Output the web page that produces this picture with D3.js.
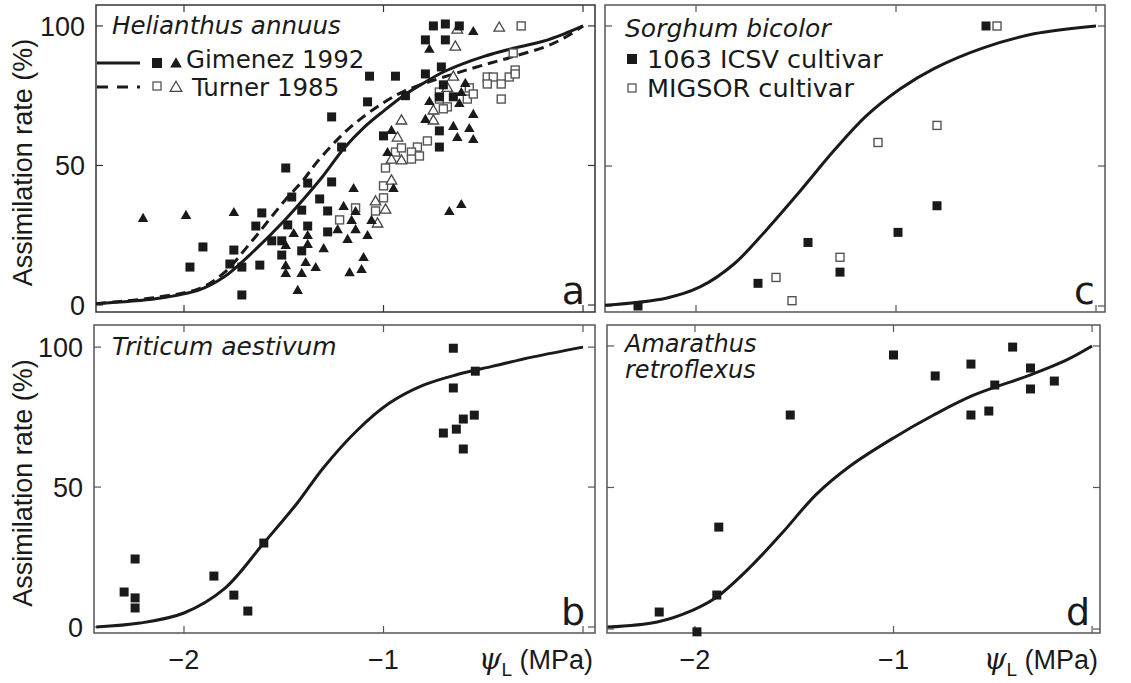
<!DOCTYPE html>
<html><head><meta charset="utf-8">
<script src="https://cdn.jsdelivr.net/npm/d3@7"></script>
<style>body{margin:0;background:#fff}svg{display:block}</style>
</head><body>
<svg id="c" width="1131" height="683"></svg>
<script>
// ---------- data ----------
const xTicks = [-2, -1, 0];
const xTickLabels = ["\u22122", "\u22121"];
const yTicks = [0, 50, 100];
const yTickLabels = ["0", "50", "100"];

// Panel a: Helianthus annuus
const curveGimenez = [[-2.44,0.5],[-2.135,2.3],[-1.92,5.5],[-1.8,10],[-1.67,18],[-1.5,30],[-1.4,38],[-1.3,46.5],[-1.2,56],[-1.1,63.5],[-1.0,69.5],[-0.9,75],[-0.8,79.5],[-0.7,83.5],[-0.6,86.5],[-0.5,89],[-0.35,92],[-0.2,94.5],[-0.1,97],[0,100]];
const curveTurner = [[-2.44,0.5],[-2.135,2.8],[-1.92,6],[-1.8,11.5],[-1.67,22],[-1.5,37],[-1.4,45],[-1.33,51.5],[-1.2,61.5],[-1.1,67.5],[-1.0,72.5],[-0.9,76.5],[-0.75,80.5],[-0.63,83.2],[-0.5,86],[-0.35,89],[-0.18,92.8],[-0.08,96.3],[0,100]];
const gimenezSquares = [[-1.26,67.4],[-1.21,56.6],[-1.49,49.1],[-1.38,43.7],[-1.26,44.1],[-1.46,38.7],[-1.32,38],[-1.41,34],[-1.28,33.7],[-1.61,33],[-1.64,28.3],[-1.48,28.7],[-1.38,28.3],[-1.56,23],[-1.51,23],[-1.28,26.2],[-1.41,19.4],[-1.905,20.8],[-1.75,19.7],[-1.51,17.9],[-1.77,14.7],[-1.71,13.6],[-1.62,14.3],[-1.97,13.6],[-1.71,3.6],[-0.75,100],[-0.69,100.7],[-0.62,100],[-0.79,95],[-0.69,95],[-1.07,82],[-0.94,82],[-0.79,82.8],[-0.71,85.3],[-1.08,72.8],[-0.89,75],[-0.70,78.9],[-0.72,74.6],[-0.65,74.6],[-1.0,60.6],[-0.72,62.4],[-0.72,56.6]];
const gimenezTriangles = [[-2.205,31.2],[-1.99,32.3],[-1.75,33.3],[-1.2,35.5],[-1.45,25.8],[-1.49,21.5],[-1.38,25.1],[-1.38,21.9],[-1.23,27.2],[-1.3,20.4],[-1.49,14.3],[-1.49,11.5],[-1.41,11.5],[-1.39,15.4],[-1.34,13.6],[-1.43,5.4],[-1.17,11.8],[-1.15,41.9],[-1.14,33.7],[-1.16,30.5],[-1.14,27.2],[-1.18,23.7],[-1.08,25.1],[-1.06,30.5],[-1.1,17.2],[-1.11,12.9],[-0.98,54.8],[-0.95,41.9],[-0.55,98.2],[-0.77,91.8],[-0.59,79.6],[-0.77,73.1],[-0.61,76.3],[-0.62,72.4],[-0.55,68.5],[-0.79,66.7],[-0.65,64.2],[-0.57,63.4],[-0.63,60.2],[-0.55,59.5],[-0.96,62.7],[-0.67,33.7],[-0.61,36.2]];
const turnerSquares = [[-1.14,34.8],[-1.22,30.5],[-0.99,49.1],[-1.0,42.7],[-1.0,38.4],[-1.04,33.7],[-0.94,54.8],[-0.31,100],[-0.35,90.3],[-0.48,81.7],[-0.45,81.7],[-0.48,79.2],[-0.41,79.2],[-0.37,81.7],[-0.34,84.2],[-0.34,82.8],[-0.41,73.8],[-0.72,76.3],[-0.72,73.8],[-0.68,71],[-0.7,70.3],[-0.57,77.8],[-0.58,73.8],[-0.55,75.6],[-0.78,58.8],[-0.83,56.6],[-0.86,54.8],[-0.82,53.4],[-0.86,52.3],[-0.91,56.3]];
const turnerTriangles = [[-0.96,52.3],[-0.91,52],[-0.96,44.8],[-1.04,37.3],[-0.99,34.4],[-1.03,29.4],[-0.42,99.6],[-0.63,98.9],[-0.64,92.8],[-0.65,82],[-0.91,66.3],[-0.93,60.2],[-0.75,69.9],[-0.75,66.3],[-0.68,78]];

// Panel b: Triticum aestivum
const curveTriticum = [[-2.44,0],[-2.22,1.4],[-2.0,5],[-1.8,13.5],[-1.6,30],[-1.43,44.5],[-1.3,57],[-1.13,70.4],[-0.97,80],[-0.8,86.4],[-0.63,90.2],[-0.45,93.2],[-0.25,96.5],[0,100]];
const triticumSquares = [[-2.3,12.5],[-2.245,24.3],[-2.245,10.4],[-2.245,6.8],[-1.85,18.2],[-1.75,11.4],[-1.68,5.7],[-1.6,30],[-0.7,69.3],[-0.65,99.6],[-0.65,85.4],[-0.635,70.7],[-0.6,74.3],[-0.6,63.6],[-0.545,75.7],[-0.54,91.4]];

// Panel c: Sorghum bicolor
const curveSorghum = [[-2.455,0.3],[-2.15,2.8],[-1.98,6.8],[-1.81,15],[-1.65,27],[-1.48,41],[-1.31,55.5],[-1.15,67.8],[-0.98,77.5],[-0.81,84.8],[-0.56,92.3],[-0.31,97.2],[0,100]];
const icsvSquares = [[-2.29,0],[-1.69,8.1],[-1.44,22.7],[-1.28,12.1],[-0.99,26.3],[-0.795,35.8],[-0.55,100]];
const migsorSquares = [[-1.6,10.2],[-1.52,1.9],[-1.28,17.4],[-1.09,58.4],[-0.795,64.5],[-0.495,100]];

// Panel d: Amarathus retroflexus
const curveAmaranthus = [[-2.44,0.7],[-2.19,2.5],[-2.01,6.7],[-1.89,11.3],[-1.72,22],[-1.56,34],[-1.39,47.5],[-1.22,57.5],[-1.0,67.5],[-0.8,75.5],[-0.6,82.5],[-0.31,89.8],[-0.13,95],[0,100]];
const amaranthusSquares = [[-2.18,6],[-1.99,-1],[-1.89,12],[-1.88,36],[-1.52,75.6],[-1.0,96.8],[-0.79,89.4],[-0.61,93.6],[-0.61,75.6],[-0.52,77],[-0.49,86.2],[-0.4,99.6],[-0.31,92.2],[-0.31,84.8],[-0.19,87.6]];

// ---------- drawing ----------
const svg = d3.select("#c");
const INK = "#1a1a1a";
const FRAME = "#555";
const SANS = "'DejaVu Sans', Verdana, sans-serif";
const ARIAL = "'Liberation Sans', Arial, sans-serif";

const panels = [
  {key:"a", box:[96,595,5,312],  xd:[-2.441,0.060], yd:[-2.5,107.5], bottomRow:false, leftCol:true, frame:"#333"},
  {key:"b", box:[94,595,325,633], xd:[-2.451,0.060], yd:[-2.14,107.9], bottomRow:true, leftCol:true, frame:FRAME},
  {key:"c", box:[605,1105,5,312], xd:[-2.455,0.045], yd:[-2.14,107.5], bottomRow:false, leftCol:false, frame:FRAME},
  {key:"d", box:[607,1100,325,633], xd:[-2.443,0.040], yd:[-1.41,107.4], bottomRow:true, leftCol:false, frame:FRAME}
];
panels.forEach(p => {
  p.x = d3.scaleLinear().domain(p.xd).range([p.box[0], p.box[1]]);
  p.y = d3.scaleLinear().domain(p.yd).range([p.box[3], p.box[2]]);
});
const P = Object.fromEntries(panels.map(p => [p.key, p]));

const tri = d3.symbol().type(d3.symbolTriangle).size(48);

function frame(p) {
  const g = svg.append("g");
  const [x0,x1,y0,y1] = p.box;
  g.append("rect").attr("x",x0).attr("y",y0).attr("width",x1-x0).attr("height",y1-y0)
    .attr("fill","none").attr("stroke",p.frame).attr("stroke-width",1.5);
  const tl = 7;
  xTicks.forEach(t => {
    const xx = p.x(t);
    g.append("line").attr("x1",xx).attr("x2",xx).attr("y1",y1).attr("y2",y1-tl).attr("stroke",p.frame).attr("stroke-width",1.2);
    g.append("line").attr("x1",xx).attr("x2",xx).attr("y1",y0).attr("y2",y0+tl).attr("stroke",p.frame).attr("stroke-width",1.2);
  });
  yTicks.forEach(t => {
    const yy = p.y(t);
    g.append("line").attr("x1",x0).attr("x2",x0+tl).attr("y1",yy).attr("y2",yy).attr("stroke",p.frame).attr("stroke-width",1.2);
    g.append("line").attr("x1",x1).attr("x2",x1-tl).attr("y1",yy).attr("y2",yy).attr("stroke",p.frame).attr("stroke-width",1.2);
  });
  if (p.leftCol) {
    yTicks.forEach((t,i) => {
      svg.append("text").attr("x",x0-11).attr("y",p.y(t)).attr("dy","0.36em")
        .attr("text-anchor","end").attr("font-family",ARIAL).attr("font-size",27).attr("fill",INK)
        .text(yTickLabels[i]);
    });
    svg.append("text").attr("transform",`translate(32,${(y0+y1)/2+4}) rotate(-90)`)
      .attr("text-anchor","middle").attr("font-family",ARIAL).attr("font-size",27).attr("fill",INK)
      .text("Assimilation rate (%)");
  }
  if (p.bottomRow) {
    xTicks.slice(0,2).forEach((t,i) => {
      svg.append("text").attr("x",p.x(t)).attr("y",669).attr("text-anchor","middle")
        .attr("font-family",ARIAL).attr("font-size",27).attr("fill",INK).text(xTickLabels[i]);
    });
    const lab = svg.append("text").attr("x",x1-2).attr("y",669).attr("text-anchor","end")
      .attr("font-family",ARIAL).attr("font-size",27).attr("fill",INK);
    lab.append("tspan").attr("font-style","italic").attr("font-family","'DejaVu Serif', serif").attr("font-size",29).text("\u03C8");
    lab.append("tspan").attr("font-size",19).attr("dy",7).text("L");
    lab.append("tspan").attr("dy",-7).text(" (MPa)");
  }
  // panel letter
  svg.append("text").attr("x",x1-10).attr("y",y1-8).attr("text-anchor","end")
    .attr("font-family",SANS).attr("font-size",38).attr("fill",INK).text(p.key);
}
panels.forEach(frame);

const line = p => d3.line().x(d=>p.x(d[0])).y(d=>p.y(d[1])).curve(d3.curveCatmullRom.alpha(0.5));

function drawCurve(p, data, dashed) {
  svg.append("path").datum(data).attr("d", line(p)).attr("fill","none")
    .attr("stroke",INK).attr("stroke-width",3)
    .attr("stroke-dasharray", dashed ? "10,6" : null);
}
function squares(p, data, filled) {
  const s = filled ? 9 : 8;
  svg.append("g").selectAll("rect").data(data).join("rect")
    .attr("x",d=>p.x(d[0])-s/2).attr("y",d=>p.y(d[1])-s/2).attr("width",s).attr("height",s)
    .attr("fill", filled ? INK : "#fff")
    .attr("stroke", filled ? "none" : "#555").attr("stroke-width", filled ? 0 : 1.4);
}
function triangles(p, data, filled) {
  svg.append("g").selectAll("path").data(data).join("path")
    .attr("d", tri).attr("transform", d=>`translate(${p.x(d[0])},${p.y(d[1])+1})`)
    .attr("fill", filled ? INK : "#fff")
    .attr("stroke", filled ? "none" : "#444").attr("stroke-width", filled ? 0 : 1.3);
}

// Panel a
drawCurve(P.a, curveTurner, true);
drawCurve(P.a, curveGimenez, false);
squares(P.a, turnerSquares, false);
triangles(P.a, turnerTriangles, false);
squares(P.a, gimenezSquares, true);
triangles(P.a, gimenezTriangles, true);
// Panel b
drawCurve(P.b, curveTriticum, false);
squares(P.b, triticumSquares, true);
// Panel c
drawCurve(P.c, curveSorghum, false);
squares(P.c, migsorSquares, false);
squares(P.c, icsvSquares, true);
// Panel d
drawCurve(P.d, curveAmaranthus, false);
squares(P.d, amaranthusSquares, true);

// ---------- titles & legends ----------
function txt(x, y, s, opts={}) {
  return svg.append("text").attr("x",x).attr("y",y).attr("font-family",SANS)
    .attr("font-size",opts.size||25).attr("font-style",opts.italic?"italic":null)
    .attr("fill",INK).text(s);
}
txt(112, 34, "Helianthus annuus", {italic:true, size:24.5});
// legend a
svg.append("line").attr("x1",97).attr("x2",140).attr("y1",63).attr("y2",63).attr("stroke",INK).attr("stroke-width",3);
svg.append("line").attr("x1",97).attr("x2",140).attr("y1",87).attr("y2",87).attr("stroke",INK).attr("stroke-width",3).attr("stroke-dasharray","11,9");
svg.append("rect").attr("x",152).attr("y",58).attr("width",10).attr("height",10).attr("fill",INK);
svg.append("path").attr("d",d3.symbol().type(d3.symbolTriangle).size(60)).attr("transform","translate(176,64)").attr("fill",INK);
svg.append("rect").attr("x",153).attr("y",82).attr("width",8).attr("height",8).attr("fill","#fff").attr("stroke","#555").attr("stroke-width",1.3);
svg.append("path").attr("d",d3.symbol().type(d3.symbolTriangle).size(60)).attr("transform","translate(176,88)").attr("fill","#fff").attr("stroke","#444").attr("stroke-width",1.2);
txt(186, 68, "Gimenez 1992", {size:24.5});
txt(192, 96, "Turner 1985", {size:24.5});

txt(625, 37, "Sorghum bicolor", {italic:true, size:25});
svg.append("rect").attr("x",627).attr("y",54).attr("width",10).attr("height",10).attr("fill",INK);
svg.append("rect").attr("x",628).attr("y",84).attr("width",8).attr("height",8).attr("fill","#fff").attr("stroke","#555").attr("stroke-width",1.3);
txt(647, 68, "1063 ICSV cultivar", {size:25.5});
txt(647, 97, "MIGSOR cultivar", {size:25.5});

txt(112, 355, "Triticum aestivum", {italic:true, size:25});
txt(625, 352, "Amarathus", {italic:true, size:24});
txt(625, 378, "retroflexus", {italic:true, size:24});
</script>
</body></html>
